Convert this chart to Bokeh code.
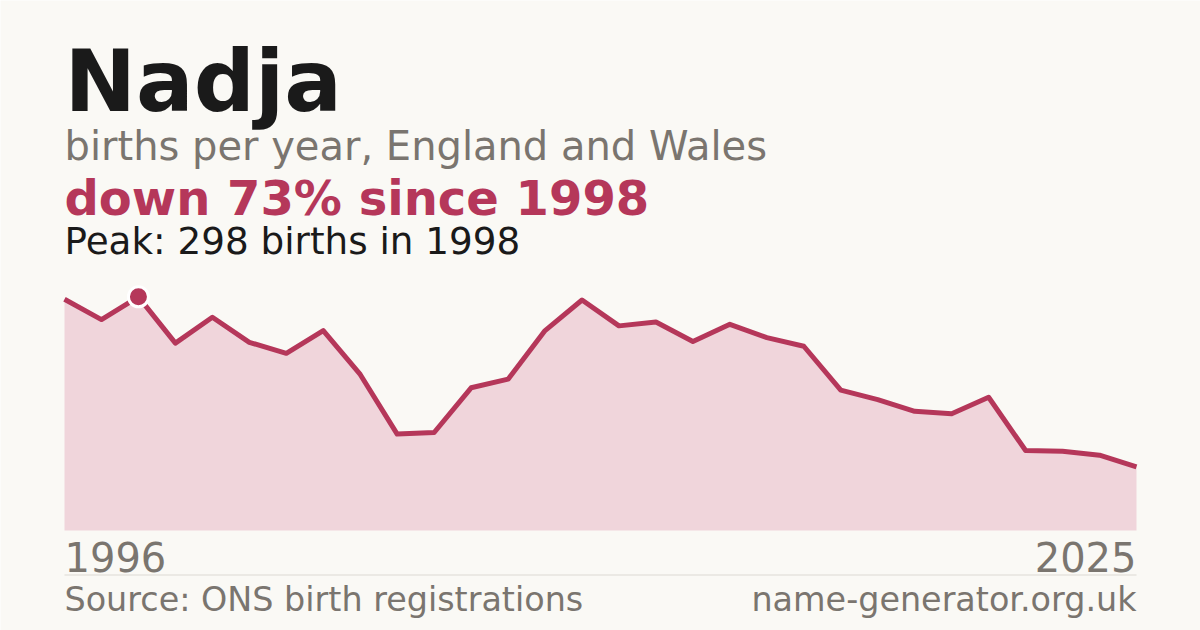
from bokeh.plotting import figure
from bokeh.models import Label, BoxAnnotation, Range1d
from bokeh.embed import file_html
from bokeh.resources import INLINE

years = list(range(1996, 2026))
births = [295, 269, 298, 239, 272, 240, 226, 255, 199, 123,
          125, 182, 193, 255, 294, 261, 266, 241, 263, 246,
          235, 179, 167, 152, 149, 170, 102, 101, 96, 81]

title_text = "Nadja"
subtitle_text = "births per year, England and Wales"
headline_text = "down 73% since 1998"
peak_text = "Peak: 298 births in 1998"
source_text = "Source: ONS birth registrations"
site_text = "name-generator.org.uk"

BG = "#faf9f5"
RED = "#b5375a"
FILL = "#f0d5db"
GREY = "#7a756f"
DARK = "#1a1a1a"
FONT = "DejaVu Sans"

W, H = 1200, 630
# chart area in canvas pixels
CL, CR, CB, CT = 64, 1136, 530, 280

peak_val = max(births)
peak_year = years[births.index(peak_val)]

# scales: map data so the chart area sits at CL..CR, CB..CT
kx = (CR - CL) / (years[-1] - years[0])
x0 = years[0] - CL / kx
ky = (CB - CT) / (peak_val * 1.07)
y0 = -(H - CB) / ky

p = figure(width=W, height=H, output_backend="svg", toolbar_location=None,
           x_axis_type=None, y_axis_type=None,
           x_range=Range1d(x0, x0 + W / kx),
           y_range=Range1d(y0, y0 + H / ky),
           min_border=0)
p.background_fill_color = BG
p.border_fill_color = BG
p.outline_line_color = None
p.grid.visible = False

p.varea(x=years, y1=[0] * len(years), y2=births, fill_color=FILL)
p.line(x=years, y=births, line_color=RED, line_width=5, line_join="round")
p.scatter(x=[peak_year], y=[peak_val], size=20, marker="circle",
          fill_color=RED, line_color="white", line_width=3)


def lab(text, x, baseline, size, color, style="normal", align="left"):
    # empirical correction of the rendered baseline (~0.355 * font size)
    y_top = baseline - 0.355 * size
    p.add_layout(Label(x=x, y=H - y_top, x_units="screen", y_units="screen",
                       text=text, text_font=FONT, text_font_size=f"{size}px",
                       text_color=color, text_font_style=style,
                       text_align=align, text_baseline="alphabetic"))


lab(title_text, CL, 111.7, 85.5, DARK, "bold")
lab(subtitle_text, CL, 160, 40, GREY)
lab(headline_text, CL, 214.3, 48, RED, "bold")
lab(peak_text, CL, 253.3, 37.3, DARK)
lab(str(years[0]), CL, 570.5, 40, GREY)
lab(str(years[-1]), CR, 570.5, 40, GREY, align="right")
lab(source_text, CL, 610.5, 33.4, GREY)
lab(site_text, CR, 610.5, 33.4, GREY, align="right")

p.add_layout(BoxAnnotation(left=CL, right=CR, bottom=H - 575, top=H - 574,
                           left_units="screen", right_units="screen",
                           bottom_units="screen", top_units="screen",
                           fill_color="#dcd9d3", fill_alpha=1, line_color=None))

open("out.html", "w").write(file_html(p, INLINE))
